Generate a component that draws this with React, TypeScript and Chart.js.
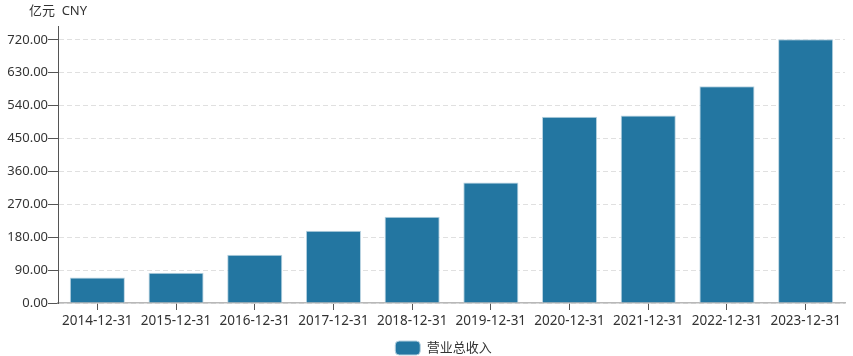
import React, { useEffect, useRef } from "react";
import { Chart, registerables } from "chart.js";

Chart.register(...registerables);

const categories = [
  "2014-12-31", "2015-12-31", "2016-12-31", "2017-12-31", "2018-12-31",
  "2019-12-31", "2020-12-31", "2021-12-31", "2022-12-31", "2023-12-31",
];
const revenue = [70, 82.5, 132, 198, 236, 330, 510, 513, 593, 722];
const yTicks = [0, 90, 180, 270, 360, 450, 540, 630, 720];
const seriesName = "营业总收入";
const unitLabel = "亿元  CNY";
const yMax = 758;

const FONT = "'Noto Sans', 'Noto Sans CJK SC', sans-serif";

const unitPlugin = {
  id: "unitLabel",
  afterLayout(chart: any) {
    const lg = chart.legend;
    if (lg) {
      lg.left += 21;
      lg.right += 21;
    }
  },
  afterDraw(chart: any) {
    const ctx = chart.ctx;
    ctx.save();
    ctx.font = `13px ${FONT}`;
    ctx.fillStyle = "#333";
    ctx.textAlign = "center";
    ctx.textBaseline = "middle";
    ctx.fillText(unitLabel, chart.chartArea.left, 11);
    ctx.restore();
  },
};

export default function App() {
  const ref = useRef<HTMLCanvasElement>(null);
  useEffect(() => {
    if (!ref.current) return;
    const chart = new Chart(ref.current, {
      type: "bar",
      data: {
        labels: categories,
        datasets: [
          {
            label: seriesName,
            data: revenue,
            backgroundColor: "#2376a1",
            borderColor: "#b9d3e1",
            borderWidth: 1,
            categoryPercentage: 0.7,
            barPercentage: 1,
          },
        ],
      },
      options: {
        animation: false,
        responsive: true,
        maintainAspectRatio: false,
        layout: { padding: { top: 26, right: 8, left: 0, bottom: -9 } },
        plugins: {
          tooltip: { enabled: false },
          legend: {
            position: "bottom",
            labels: {
              font: { size: 13, family: FONT },
              color: "#333",
              boxWidth: 25,
              boxHeight: 14,
              useBorderRadius: true,
              borderRadius: 4,
              padding: 1,
            },
          },
        },
        scales: {
          x: {
            grid: {
              display: true,
              drawOnChartArea: false,
              drawTicks: true,
              tickLength: 7,
              tickColor: "#555",
              offset: false,
            },
            border: { color: "#b8b8b8", width: 1.5 },
            ticks: {
              font: { size: 13.5, family: FONT },
              color: "#333",
              padding: 3,
              maxRotation: 0,
              autoSkip: false,
            },
            afterFit(scale: any) {
              scale.height = 37;
            },
          },
          y: {
            min: 0,
            max: yMax,
            afterBuildTicks(scale: any) {
              scale.ticks = yTicks.map((v) => ({ value: v }));
            },
            ticks: {
              font: { size: 13, family: FONT },
              color: "#333",
              padding: 0,
              callback: (v: any) => Number(v).toFixed(2),
            },
            grid: {
              color: "#e0e0e0",
              tickColor: "#555",
              tickLength: 10,
              tickBorderDash: [],
            },
            border: { color: "#555", width: 1, dash: [5, 3] as any },
            afterFit(scale: any) {
              scale.width = 58;
            },
          },
        },
      } as any,
      plugins: [unitPlugin],
    });
    return () => chart.destroy();
  }, []);
  return (
    <div style={{ position: "absolute", left: 0, top: 0, width: 853, height: 356 }}>
      <canvas ref={ref} />
    </div>
  );
}
